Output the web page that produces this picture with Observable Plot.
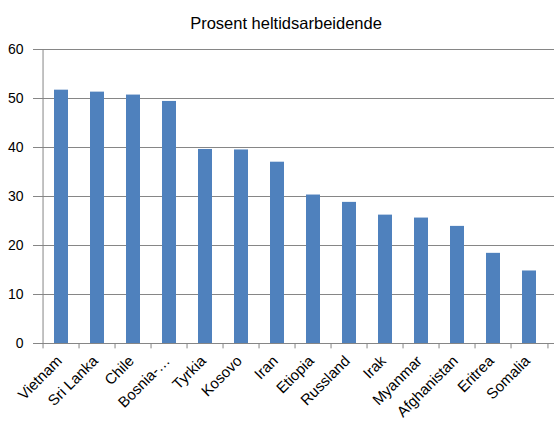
<!DOCTYPE html>
<html><head><meta charset="utf-8">
<script src="https://cdn.jsdelivr.net/npm/d3@7"></script>
<script src="https://cdn.jsdelivr.net/npm/@observablehq/plot@0.6"></script>
<style>
body{margin:0;background:#fff;font-family:"Liberation Sans",Arial,sans-serif;}
#title{height:40px;width:560px;text-align:center;font-size:16.5px;line-height:46px;padding-left:12px;box-sizing:border-box;color:#000;}
</style></head>
<body>
<div id="title">Prosent heltidsarbeidende</div>
<div id="chart"></div>
<script>
const countries = ["Vietnam","Sri Lanka","Chile","Bosnia-…","Tyrkia","Kosovo","Iran","Etiopia","Russland","Irak","Myanmar","Afghanistan","Eritrea","Somalia"];
const values = [51.7,51.3,50.7,49.4,39.6,39.5,37.0,30.3,28.8,26.2,25.6,23.9,18.4,14.8];
const yTicks = [0,10,20,30,40,50,60];

const data = countries.map((c,i)=>({country:c,value:values[i]}));
const W=560, H=400, mL=37, mR=6;
const step=(W-mL-mR)/countries.length;
const grey="#868686";

const chart = Plot.plot({
  width:W, height:H,
  marginTop:9, marginBottom:97, marginLeft:mL, marginRight:mR,
  style:{fontFamily:"'Liberation Sans',Arial,sans-serif", fontSize:"14px", color:"#000", background:"#fff"},
  x:{domain:countries, paddingInner:0.6, paddingOuter:0.3, label:null},
  y:{domain:[0,60], label:null},
  marks:[
    Plot.ruleY(yTicks,{stroke:grey, strokeWidth:1}),
    Plot.barY(data,{x:"country", y:"value", fill:"#4F81BD"}),
    Plot.ruleX(countries,{x:d=>d, dx:-step/2, y1:0, y2:-1.1, stroke:grey}),
    Plot.ruleX([countries[countries.length-1]],{x:d=>d, dx:step/2, y1:0, y2:-1.1, stroke:grey}),
    Plot.ruleX([countries[0]],{x:d=>d, dx:-step/2, y1:0, y2:60, stroke:grey}),
    Plot.axisY({ticks:yTicks, tickSize:4, tickPadding:10, stroke:grey, fontSize:14, fill:"#000"}),
    Plot.axisX({tickSize:0, tickRotate:-45, tickPadding:9, dx:-2, dy:6, fontSize:15, fill:"#000"})
  ]
});
document.getElementById("chart").appendChild(chart);
</script>
</body></html>
